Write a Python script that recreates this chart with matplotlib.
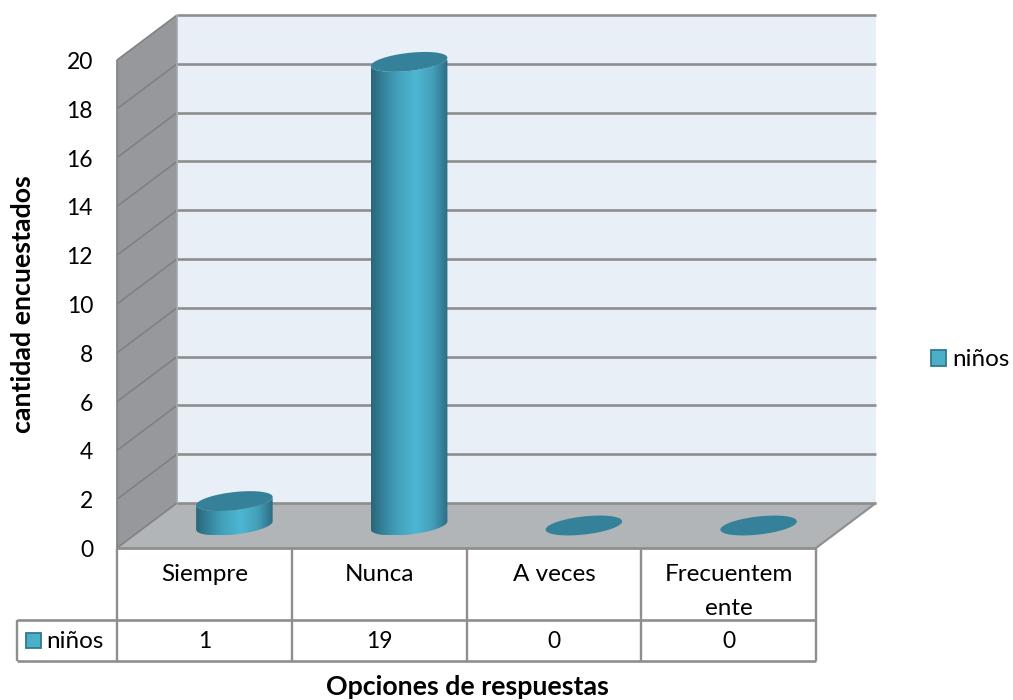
import numpy as np
import matplotlib
matplotlib.use("Agg")
import matplotlib.pyplot as plt
from matplotlib.colors import LinearSegmentedColormap
from matplotlib.patches import Polygon, Rectangle, Patch

categories = ["Siempre", "Nunca", "A veces", "Frecuentem\nente"]
series_name = "niños"
values = [1, 19, 0, 0]
y_ticks = [0, 2, 4, 6, 8, 10, 12, 14, 16, 18, 20]
x_title = "Opciones de respuestas"
y_title = "cantidad encuestados"

W, H = 1013, 700
L, R, B, T = 117, 816, 548, 60
plt.rcParams["font.family"] = ["Lato", "DejaVu Sans"]
FS = 17.5
FS_TICK = 16.5
FS_TITLE = 19.3

fig = plt.figure(figsize=(W / 100, H / 100), dpi=100, facecolor="white")
ax = fig.add_axes([L / W, 1 - B / H, (R - L) / W, (B - T) / H])
ax.set_xlim(0, len(categories))
ax.set_ylim(0, 20)
ax.axis("off")

ux = (R - L) / len(categories)   # px per category
uy = (B - T) / 20                # px per value unit
DX, DY = 60 / ux, 45 / uy        # depth offset in data units
n = len(categories)
top = y_ticks[-1]

BACK, FLOOR, SIDE = "#e8eff6", "#b1b5b8", "#96989b"
GRID, THIN = "#8e8e8e", "#7d7f81"
CAP = "#35819a"


def poly(pts, **kw):
    p = Polygon(pts, closed=True, clip_on=False, **kw)
    ax.add_patch(p)
    return p


def line(xs, ys, color=GRID, lw=1.5, z=2):
    ax.plot(xs, ys, color=color, lw=lw, clip_on=False, zorder=z, solid_capstyle="butt")


# walls
poly([(DX, DY), (n + DX, DY), (n + DX, top + DY), (DX, top + DY)], fc=BACK, ec="none", zorder=1)
poly([(0, 0), (DX, DY), (DX, top + DY), (0, top)], fc=SIDE, ec="none", zorder=1)
poly([(0, 0), (n, 0), (n + DX, DY), (DX, DY)], fc=FLOOR, ec="none", zorder=1)

# gridlines
for v in y_ticks:
    line([DX, n + DX], [v + DY, v + DY], lw=1.9)
    line([0, DX], [v, v + DY], color=THIN, lw=1.1)
    ax.text(-24 / ux, v - 2.5 / uy, str(v), ha="right", va="center", fontsize=FS_TICK, color="black")
line([DX, DX], [DY, top + DY], color="#a5a7aa", lw=1.2)
line([0, 0], [0, top], color=THIN, lw=1.2)
line([n, n + DX], [0, DY], lw=1.5)
line([0, n], [0, 0], lw=2.0, z=3)

# cylinders
a_px, b_px, th = 38.5, 9.0, np.deg2rad(6.5)


def ell(t):
    ex = a_px * np.cos(t) * np.cos(th) - b_px * np.sin(t) * np.sin(th)
    ey = a_px * np.cos(t) * np.sin(th) + b_px * np.sin(t) * np.cos(th)
    return ex / ux, ey / uy


grad = LinearSegmentedColormap.from_list(
    "cyl", [(0, "#2a6677"), (0.1, "#31788f"), (0.33, "#429fba"), (0.58, "#4db7d3"),
            (0.8, "#459fb9"), (0.93, "#357f98"), (1, "#2d6b80")])
tx = np.arctan2(-b_px * np.sin(th), a_px * np.cos(th))
tt = np.linspace(tx + np.pi, tx + 2 * np.pi, 60)
ft = np.linspace(0, 2 * np.pi, 120)

for i, v in enumerate(values):
    cx = i + 0.5 + DX / 2
    cy = DY / 2
    if v > 0:
        bx, by = ell(tt)
        px = np.r_[cx + bx, (cx + bx)[::-1]]
        py = np.r_[cy + by, (cy + by + v)[::-1]]
        body = poly(np.c_[px, py], fc="none", ec="none", zorder=4)
        im = ax.imshow(np.linspace(0, 1, 256)[None, :], cmap=grad, aspect="auto",
                       extent=(px.min(), px.max(), py.min(), py.max()), zorder=4)
        im.set_clip_path(body)
    ex, ey = ell(ft)
    poly(np.c_[cx + ex, cy + ey + v], fc=CAP, ec="none", zorder=5)

ax.set_xlim(0, n)
ax.set_ylim(0, 20)

# data table
r1 = -72 / uy
r2 = -113 / uy
left = -100 / ux
for xx in range(n + 1):
    line([xx, xx], [0, r2], lw=1.7, z=3)
line([left, n], [r1, r1], lw=1.9)
line([left, n], [r2, r2], lw=1.9)
line([left, left], [r1, r2], lw=1.7)

SW = "#4aafc9"
SE = "#31788f"
rc = (r1 + r2) / 2
for i, c in enumerate(categories):
    ax.text(i + 0.5, -16 / uy, c, ha="center", va="top", fontsize=FS, linespacing=1.75, clip_on=False)
    ax.text(i + 0.5, rc - 1.5 / uy, str(values[i]), ha="center", va="center", fontsize=FS_TICK, clip_on=False)
ax.add_patch(Rectangle((left + 8.5 / ux, rc - 7.5 / uy), 15 / ux, 15 / uy,
                       fc=SW, ec=SE, lw=1.3, clip_on=False, zorder=3))
ax.text(left + 29 / ux, rc - 1.5 / uy, series_name, ha="left", va="center", fontsize=FS, clip_on=False)

# legend
ax.legend(handles=[Patch(fc=SW, ec=SE, lw=1.3, label=series_name)], frameon=False, fontsize=FS,
          loc="center left", bbox_to_anchor=((931 - L) / (R - L), (B - 360) / (B - T)),
          borderpad=0, borderaxespad=0, handlelength=0.62, handleheight=0.62, handletextpad=0.25)

# titles
fig.text(467 / W, 1 - 687 / H, x_title, ha="center", va="center", fontsize=FS_TITLE, fontweight="bold")
fig.text(23 / W, 1 - 304 / H, y_title, ha="center", va="center", rotation=90, fontsize=FS_TITLE, fontweight="bold")

fig.savefig("out.png", dpi=100, facecolor="white")
